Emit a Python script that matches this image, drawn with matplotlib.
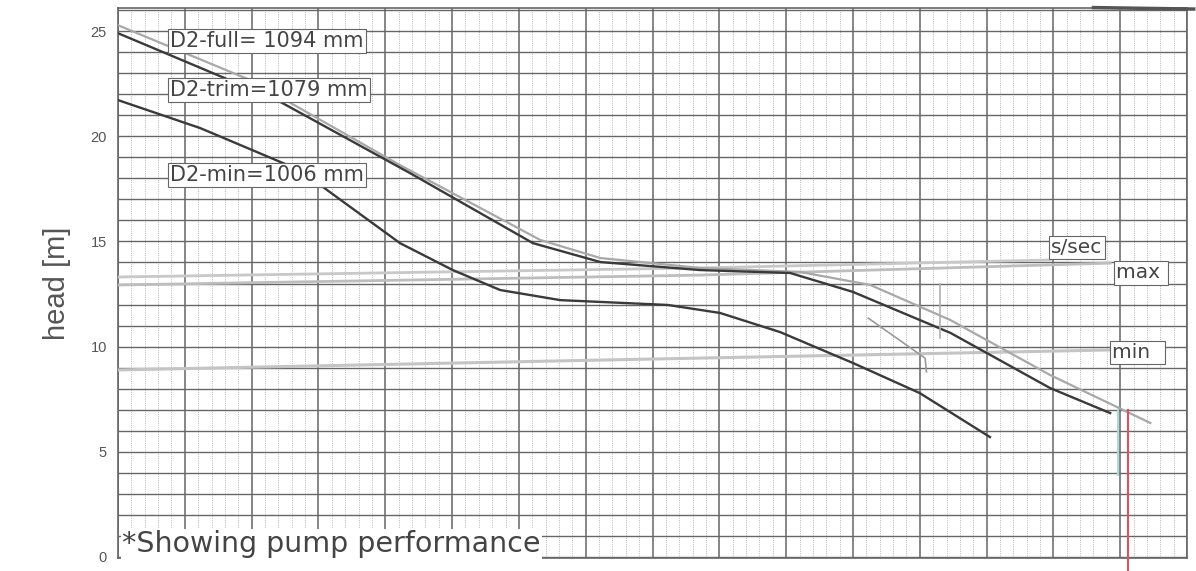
import matplotlib.pyplot as plt
import numpy as np

plt.rcParams['font.family'] = ['Liberation Sans', 'DejaVu Sans']

# pump curves (flow in grid units, head in m)
full_q = [0, 1.98, 4.22, 6.32, 7.22, 8.71, 10.21, 11.26, 12.46, 13.95, 15.45]
full_h = [25.28, 22.67, 18.63, 15.07, 14.21, 13.74, 13.55, 12.93, 11.26, 8.65, 6.37]

trim_q = [0, 2.38, 4.37, 6.21, 7.22, 8.71, 10.06, 11.0, 12.46, 13.95, 14.85]
trim_h = [24.9, 21.72, 18.25, 14.92, 14.02, 13.64, 13.5, 12.6, 10.65, 8.03, 6.84]

min_q = [0, 1.23, 2.72, 4.22, 5.01, 5.72, 6.62, 8.23, 9.01, 9.91, 11.0, 12.0, 13.05]
min_h = [21.72, 20.39, 18.39, 14.92, 13.64, 12.69, 12.21, 11.98, 11.6, 10.69, 9.22, 7.79, 5.70]

# system curves
sys_sec_q = [0, 8.71, 13.95]
sys_sec_h = [13.31, 13.74, 14.12]
sys_max_q = [0, 8.71, 14.85]
sys_max_h = [12.93, 13.40, 13.97]
sys_min_q = [0, 7.22, 14.85]
sys_min_h = [8.89, 9.36, 9.84]

yticks = [0, 5, 10, 15, 20, 25]

fig = plt.figure(figsize=(11.96, 5.71), dpi=100)
ax = fig.add_axes([0.0987, 0.0228, 0.8938, 0.9632])

ax.set_xlim(0, 16)
ax.set_ylim(-0.05, 26.1)

# graph paper grid
ax.set_xticks(np.arange(0, 17, 1))
ax.set_xticks(np.arange(0, 16, 0.2), minor=True)
ax.set_yticks(yticks)
ax.set_yticks(np.arange(0, 27, 1), minor=True)
ax.grid(which='major', axis='x', color='#666666', lw=1.1)
ax.grid(which='minor', axis='x', color='#a0a0a0', lw=0.6, ls=':')
ax.grid(which='minor', axis='y', color='#666666', lw=1.0)
ax.grid(which='major', axis='y', color='#666666', lw=1.0)
ax.tick_params(axis='x', which='both', length=0, labelbottom=False)
ax.tick_params(axis='y', which='both', length=0, pad=8, labelsize=10.5, labelcolor='#555555')
for s in ax.spines.values():
    s.set_color('#666666')
    s.set_linewidth(1.2)

ax.set_ylabel('head [m]', fontsize=21, color='#555555', labelpad=14)

# system curves (faint)
ax.plot(sys_sec_q, sys_sec_h, color='#c8c8c8', lw=2.0, zorder=3)
ax.plot(sys_max_q, sys_max_h, color='#bdbdbd', lw=2.0, zorder=3)
ax.plot(sys_min_q, sys_min_h, color='#c4c4c4', lw=2.2, zorder=3)

# pump curves
ax.plot(full_q, full_h, color='#a8a8a8', lw=1.6, zorder=4)
ax.plot(trim_q, trim_h, color='#3a3a3a', lw=1.7, zorder=4)
ax.plot(min_q, min_h, color='#3a3a3a', lw=1.7, zorder=4)

# misc marks on the sheet
ax.plot([11.23, 12.08, 12.1], [11.35, 9.45, 8.8], color='#9a9a9a', lw=1.2, zorder=4)
ax.plot([12.3, 12.3], [13.0, 10.4], color='#b0b0b0', lw=1.2, zorder=4)
ax.plot([14.97, 14.97], [7.0, 3.9], color='#a8dcd6', lw=1.5, zorder=4)
ax.plot([15.12, 15.12], [7.0, -0.7], color='#e05060', lw=1.5, zorder=5, clip_on=False)
ax.plot([14.6, 16.1], [26.12, 26.05], color='#555555', lw=2.5, zorder=5, clip_on=False)

lab = dict(family='DejaVu Sans', color='#444444', va='center', zorder=6)
box = dict(facecolor='white', edgecolor='#666666', lw=0.8, boxstyle='square,pad=0.1')
ax.text(0.78, 24.52, 'D2-full= 1094 mm', fontsize=15, bbox=box, **lab)
ax.text(0.78, 22.2, 'D2-trim=1079 mm', fontsize=15, bbox=box, **lab)
ax.text(0.78, 18.16, 'D2-min=1006 mm', fontsize=15, bbox=box, **lab)
ax.text(13.97, 14.73, 's/sec', fontsize=14.5, bbox=box, **lab)
ax.text(14.93, 13.5, 'max ', fontsize=14.5, bbox=box, **lab)
ax.text(14.88, 9.74, 'min  ', fontsize=14.5, bbox=box, **lab)
ax.text(0.06, 0.6, '*Showing pump performance', fontsize=20.5,
        bbox=dict(facecolor='white', edgecolor='none', pad=1), **lab)

plt.savefig('out.png', dpi=100)
plt.close()
